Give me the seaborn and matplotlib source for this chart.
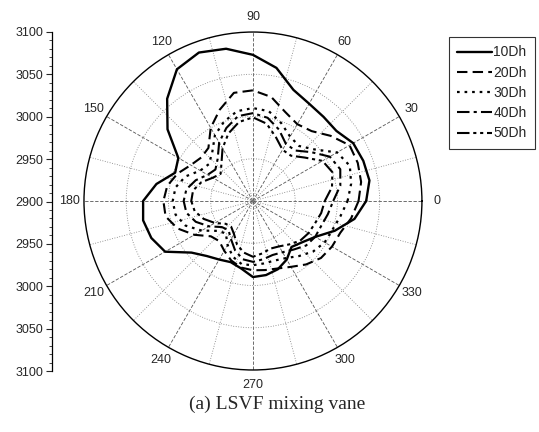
import numpy as np
import pandas as pd
import matplotlib
matplotlib.use("Agg")
import matplotlib.pyplot as plt
import seaborn as sns

# ---- data ----
angles_deg = [0, 10, 20, 30, 40, 50, 60, 70, 80, 90, 100, 110, 120, 130, 140, 150, 160, 170,
              180, 190, 200, 210, 220, 230, 240, 250, 260, 270, 280, 290, 300, 310, 320, 330, 340, 350, 360]

dh10 = [3034, 3040, 3039, 3037, 3029, 3030, 3033, 3040, 3060, 3073, 3083, 3087, 3080, 3058, 3032, 3002, 2998, 3016,
        3030, 3032, 3028, 3020, 2995, 2985, 2980, 2977, 2981, 2990, 2989, 2986, 2980, 2971, 2976, 2985, 3003, 3022, 3034]
dh20 = [3025, 3030, 3032, 3032, 3020, 3008, 3005, 3012, 3025, 3031, 3030, 3015, 3000, 2982, 2980, 2985, 2995, 3003,
        3006, 3005, 2995, 2980, 2965, 2962, 2968, 2975, 2980, 2982, 2983, 2985, 2990, 2998, 3005, 3008, 3010, 3018, 3025]
dh30 = [3012, 3018, 3022, 3015, 2995, 2985, 2988, 2998, 3008, 3010, 3008, 3000, 2990, 2975, 2968, 2972, 2985, 2993,
        2995, 2993, 2985, 2970, 2955, 2950, 2960, 2970, 2976, 2976, 2975, 2975, 2978, 2985, 2993, 2998, 3000, 3005, 3012]
dh40 = [2995, 3005, 3010, 3005, 2990, 2978, 2978, 2990, 3000, 3004, 3002, 2992, 2980, 2965, 2958, 2962, 2972, 2980,
        2982, 2980, 2972, 2960, 2948, 2945, 2952, 2962, 2970, 2972, 2970, 2968, 2970, 2975, 2982, 2985, 2986, 2990, 2995]
dh50 = [2985, 2995, 3000, 2995, 2980, 2970, 2970, 2980, 2993, 2999, 2995, 2985, 2972, 2958, 2950, 2955, 2965, 2972,
        2973, 2970, 2962, 2952, 2942, 2940, 2945, 2955, 2962, 2966, 2963, 2960, 2962, 2967, 2973, 2976, 2978, 2982, 2985]

series_names = ["10Dh", "20Dh", "30Dh", "40Dh", "50Dh"]
series_values = [dh10, dh20, dh30, dh40, dh50]
angle_ticks = [0, 30, 60, 90, 120, 150, 180, 210, 240, 270, 300, 330]
radial_ticks = [2950, 3000, 3050]
left_ticks = [-200, -150, -100, -50, 0, 50, 100, 150, 200]
left_labels = ["3100", "3050", "3000", "2950", "2900", "2950", "3000", "3050", "3100"]
caption = "(a) LSVF mixing vane"

sns.set_style("white")
plt.rcParams["font.family"] = ["Liberation Sans", "DejaVu Sans"]

styles = ["-", (0, (5, 2.5)), (0, (1.2, 2.2)), (0, (6, 2, 1.5, 2)), (0, (6, 1.8, 1.5, 1.8, 1.5, 1.8))]
widths = [1.7, 1.5, 1.6, 1.5, 1.5]

fig = plt.figure(figsize=(5.39, 4.32), dpi=100)
ax = fig.add_axes([0.1558, 0.1435, 0.627, 0.7824], projection="polar")

df = pd.DataFrame({"theta": np.deg2rad(angles_deg)})
for name, vals, ls, lw in zip(series_names, series_values, styles, widths):
    df[name] = vals
    sns.lineplot(x=df["theta"], y=df[name], ax=ax, color="black", linestyle=ls,
                 linewidth=lw, label=name, sort=False, legend=False)

ax.set_ylim(2900, 3100)
ax.set_rgrids(radial_ticks, labels=[""] * len(radial_ticks))
ax.set_thetagrids(angle_ticks, labels=[str(a) for a in angle_ticks], fontsize=9)
ax.tick_params(axis="x", pad=0)
ax.set_xlabel("")
ax.set_ylabel("")
ax.xaxis.set_minor_locator(matplotlib.ticker.FixedLocator(np.deg2rad(np.arange(15, 360, 30))))
ax.grid(True, which="major", axis="x", color="#555555", linestyle=(0, (4, 2)), linewidth=0.6)
ax.grid(True, which="minor", axis="x", color="#777777", linestyle=(0, (1, 2)), linewidth=0.6)
ax.grid(True, which="major", axis="y", color="#777777", linestyle=(0, (1, 2)), linewidth=0.6)
ax.spines["polar"].set_color("black")
ax.spines["polar"].set_linewidth(1.0)

# left linear scale
lax = fig.add_axes([0.0965, 61.0 / 432, 0.001, 339.0 / 432])
lax.set_ylim(200, -200)
lax.set_xlim(0, 1)
for s in ["top", "right", "bottom"]:
    lax.spines[s].set_visible(False)
lax.spines["left"].set_color("black")
lax.spines["left"].set_linewidth(0.9)
lax.set_xticks([])
lax.set_yticks(left_ticks)
lax.set_yticklabels(left_labels, fontsize=9)
lax.yaxis.set_minor_locator(matplotlib.ticker.MultipleLocator(10))
lax.tick_params(axis="y", which="major", direction="out", length=4, width=0.8, left=True, pad=2)
lax.tick_params(axis="y", which="minor", direction="out", length=2, width=0.6, left=True)
lax.set_facecolor("none")

handles, labels = ax.get_legend_handles_labels()
leg = fig.legend(handles, labels, loc="upper left", bbox_to_anchor=(0.833, 0.914),
                 fontsize=10, frameon=True, fancybox=False, handlelength=2.5,
                 handletextpad=0.1, borderpad=0.6, borderaxespad=0, labelspacing=0.45)
leg.get_frame().set_edgecolor("black")
leg.get_frame().set_linewidth(0.8)

fig.text(0.515, 0.063, caption, ha="center", va="center", fontsize=14,
         family=["Liberation Serif", "DejaVu Serif"])

fig.savefig("out.png", dpi=100)
